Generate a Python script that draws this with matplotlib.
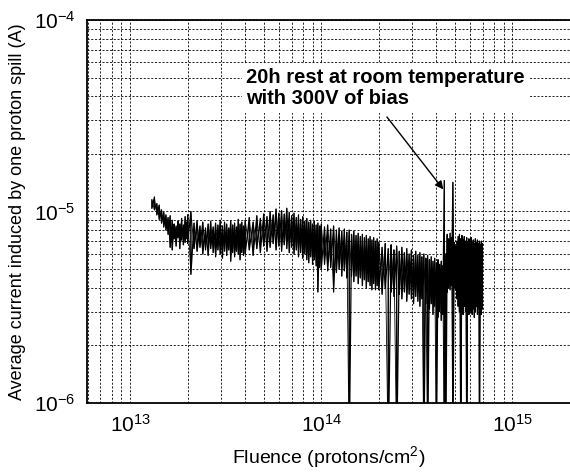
import numpy as np
import matplotlib
matplotlib.use("Agg")
import matplotlib.pyplot as plt

params = {
    "font.family": "Liberation Sans",
    "mathtext.fontset": "custom",
    "mathtext.rm": "Liberation Sans",
    "mathtext.it": "Liberation Sans:italic",
    "mathtext.bf": "Liberation Sans:bold",
    "axes.unicode_minus": False,
    "xtick.labelsize": 15,
    "ytick.labelsize": 15,
    "xtick.direction": "in",
    "ytick.direction": "in",
}
plt.rcParams.update(params)

# fluence in units of 1e13 protons/cm^2, current envelope (max / min per spill) in uA
fluence = [
    1.30, 1.34, 1.38, 1.42, 1.46, 1.50, 1.54, 1.58, 1.62, 1.66, 1.70, 1.74, 1.78, 1.82, 1.86, 1.90, 1.94, 1.98,
    2.00, 2.08, 2.16, 2.24, 2.32, 2.40, 2.48, 2.56, 2.64, 2.72, 2.80, 2.88, 2.96, 3.04, 3.12, 3.20, 3.28, 3.36,
    3.44, 3.52, 3.60, 3.68, 3.76, 3.84, 3.92,
    4.0, 4.2, 4.4, 4.6, 4.8, 5.0, 5.2, 5.4, 5.6, 5.8, 6.0, 6.2, 6.4, 6.6, 6.8, 7.0, 7.2, 7.4, 7.6, 7.8,
    8.0, 8.2, 8.4, 8.6, 8.8, 9.0, 9.2, 9.4, 9.6, 9.8,
    10.0, 10.4, 10.8, 11.2, 11.6, 12.0, 12.4, 12.8, 13.2, 13.6, 14.0, 14.4, 14.8, 15.2, 15.6, 16.0, 16.4,
    16.8, 17.2, 17.6, 18.0, 18.4, 18.8, 19.2, 19.6,
    20.0, 20.8, 21.6, 22.4, 23.2, 24.0, 24.8, 25.6, 26.4, 27.2, 28.0, 28.8, 29.6, 30.4, 31.2, 32.0, 32.8,
    33.6, 34.4, 35.2, 36.0, 36.8, 37.6, 38.4, 39.2, 40.0, 40.8, 41.6, 42.4, 43.2, 44.0, 44.8, 45.6, 46.4,
    47.2, 48.0, 48.8, 49.6, 50.4, 51.2, 52.0, 52.8, 53.6, 54.4, 55.2, 56.0, 56.8, 57.6, 58.4, 59.2, 60.0,
    60.8, 61.6, 62.4, 63.2, 64.0, 64.8, 65.6, 66.4, 67.2, 68.0, 68.8, 69.6,
]
i_high = [
    11.5, 11.9, 11.0, 10.8, 10.2, 9.9, 9.6, 9.3, 9.5, 9.0, 8.6, 8.4, 8.9, 8.6, 9.2, 8.5, 9.4, 8.8,
    9.6, 10.0, 8.7, 8.9, 8.4, 8.8, 8.2, 8.6, 8.9, 8.3, 8.7, 8.5, 9.0, 8.4, 8.8, 8.6, 8.2, 8.9,
    8.5, 8.7, 8.3, 9.1, 8.6, 8.8, 8.4,
    9.0, 9.3, 8.8, 9.5, 9.2, 9.7, 9.4, 10.0, 9.6, 10.3, 9.8, 10.1, 9.7, 10.4, 9.9, 9.5, 9.8, 9.3, 9.6, 9.1,
    9.4, 8.9, 9.2, 8.8, 9.0, 8.6, 8.9, 8.5, 8.7, 8.4,
    8.6, 8.3, 8.5, 8.1, 8.4, 8.0, 8.2, 7.9, 8.1, 7.8, 8.0, 7.6, 7.9, 7.5, 7.7, 7.4, 7.6,
    7.3, 7.5, 7.2, 7.4, 7.1, 7.3, 7.0, 7.2,
    6.9, 6.5, 6.8, 6.4, 6.7, 6.3, 6.6, 6.2, 6.5, 6.1, 6.4, 6.0, 6.3, 5.9, 6.2, 5.9, 6.1,
    5.8, 6.0, 5.7, 5.9, 5.6, 5.8, 5.5, 5.7, 5.4, 5.6, 5.3, 5.5, 5.2, 14.5, 6.0, 7.6, 7.2,
    7.7, 7.3, 14.2, 6.9, 6.6, 7.0, 7.4, 7.6, 7.2, 7.5, 7.1, 7.4, 7.0, 7.3, 6.9, 7.2, 7.0,
    7.3, 6.9, 7.1, 6.8, 7.2, 6.9, 7.1, 6.8, 7.0, 6.7, 7.0, 6.8,
]
i_low = [
    10.4, 10.2, 9.6, 9.1, 8.7, 8.3, 8.0, 7.6, 6.5, 6.3, 7.2, 6.6, 7.3, 6.4, 7.1, 6.7, 6.9, 7.2,
    6.8, 4.7, 6.4, 6.2, 6.5, 6.0, 6.3, 5.9, 6.4, 6.1, 5.8, 6.3, 6.0, 5.7, 6.2, 5.9, 6.3, 5.5,
    6.1, 5.8, 6.2, 6.0, 5.6, 6.1, 5.9,
    6.0, 6.3, 5.9, 6.4, 6.1, 6.6, 6.2, 6.5, 6.8, 6.3, 6.6, 6.2, 6.7, 6.4, 6.1, 6.5, 6.0, 6.3, 5.8, 6.1,
    5.7, 6.0, 5.6, 5.4, 5.8, 5.3, 5.6, 5.2, 3.8, 5.1,
    5.0, 5.3, 4.9, 5.1, 3.8, 4.8, 5.0, 4.6, 4.9, 4.5, 0.5, 4.6, 4.3, 4.6, 4.2, 4.5, 4.1,
    4.4, 4.0, 4.3, 4.1, 3.9, 4.2, 3.9, 4.1,
    3.9, 3.7, 4.0, 0.5, 3.8, 3.6, 0.5, 3.7, 3.5, 3.8, 3.4, 3.7, 3.5, 3.3, 3.6, 3.4, 3.2,
    3.5, 0.5, 3.3, 0.5, 3.1, 3.3, 2.9, 3.2, 0.5, 2.8, 3.0, 2.7, 2.9, 0.5, 0.5, 3.8, 4.0,
    3.9, 4.1, 0.5, 4.0, 3.9, 3.5, 3.2, 3.0, 0.5, 3.1, 2.9, 3.2, 3.0, 0.5, 3.1, 2.9, 3.2,
    3.0, 2.9, 3.1, 2.8, 3.0, 3.2, 2.9, 3.1, 0.5, 3.0, 2.9, 3.1,
]

note = "20h rest at room temperature\nwith 300V of bias"
note_xy = (4.03e13, 5.6e-5)
arrow_tail = (2.16e14, 3.2e-5)
arrow_head = (4.44e14, 1.27e-5)

x = np.repeat(np.array(fluence) * 1e13, 2)
y_up = np.column_stack([i_high, i_low]).ravel() * 1e-6
y_dn = np.column_stack([i_low, i_high]).ravel() * 1e-6

fig = plt.figure(figsize=(5.7, 4.74), dpi=100)
ax = fig.add_axes([87 / 570, 71 / 474, 1 - 87 / 570, 383 / 474])

# spill-to-spill swing traced both ways so the noisy trace reads as a dense band
ax.plot(x, y_up, color="k", lw=0.9)
ax.plot(x, y_dn, color="k", lw=0.6)

ax.set_xscale("log")
ax.set_yscale("log")
ax.set_xlim(5.95e12, 2e15)
ax.set_ylim(1e-6, 1e-4)

ax.grid(True, which="both", color="k", lw=0.6, linestyle=(0, (2.5, 2)))
ax.set_axisbelow(True)
ax.tick_params(which="both", length=0, pad=8)
for s in ax.spines.values():
    s.set_linewidth(1.3)
ax.spines["right"].set_visible(False)

ax.set_xlabel("Fluence (protons/cm$^2$)", fontsize=14, labelpad=6)
ax.set_ylabel("Average current induced by one proton spill (A)", fontsize=13, labelpad=6)

ax.text(note_xy[0], note_xy[1], note, fontsize=14.5, fontweight="bold", va="top", ha="left",
        linespacing=1.15, bbox=dict(fc="white", ec="none", pad=3))
ax.annotate("", xy=arrow_head, xytext=arrow_tail,
            arrowprops=dict(arrowstyle="-|>", color="k", lw=1.0, mutation_scale=12))

fig.savefig("out.png", dpi=100)
